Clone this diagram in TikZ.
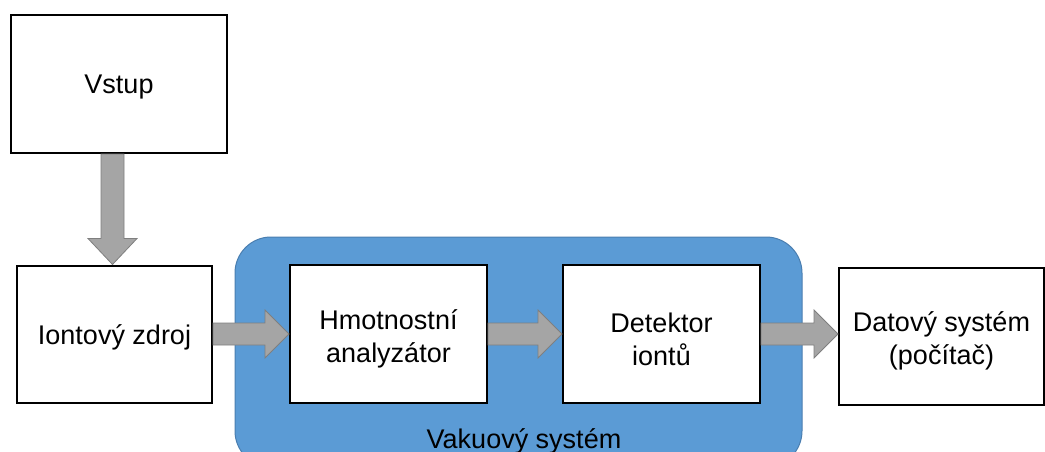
\documentclass[tikz,border=0pt]{standalone}
\usepackage{fontspec}
\setmainfont{Liberation Sans}
\usetikzlibrary{calc}
\definecolor{vacblue}{HTML}{5B9BD5}
\definecolor{vacedge}{HTML}{4A7EB0}
\definecolor{arrfill}{HTML}{A5A5A5}
\definecolor{arredge}{HTML}{7F7F7F}
\begin{document}
\begin{tikzpicture}[x=1pt,y=-1pt,
  block/.style={draw=black,line width=2pt,fill=white,inner sep=0pt},
  txt/.style={align=center,font=\fontsize{27}{33}\selectfont,inner sep=0pt},
  flow/.style={fill=arrfill,draw=arredge,line width=0.8pt}]
\useasboundingbox (0,0) rectangle (1045,452);
% vacuum enclosure
\node[draw=vacedge,fill=vacblue,line width=1pt,rounded corners=36pt,
  minimum width=567pt,minimum height=230pt,inner sep=0pt] (vac) at (518.5,352) {};
\clip (0,0) rectangle (1045,452);
\node[txt,anchor=base] (vaclbl) at (524,448) {Vakuový systém};
% blocks
\node[block,minimum width=216pt,minimum height=138pt] (in) at (119,84) {};
\node[block,minimum width=195pt,minimum height=137pt] (src) at (114.5,334) {};
\node[block,minimum width=197pt,minimum height=138pt] (ana) at (388.5,334) {};
\node[block,minimum width=197pt,minimum height=138pt] (det) at (661.5,334) {};
\node[block,minimum width=205pt,minimum height=137pt] (dat) at (941.5,336) {};
% block texts
\node[txt] (intx) at ([yshift=-3pt]in.center) {Vstup};
\node[txt] (srctx) at ([yshift=-3pt]src.center) {Iontový zdroj};
\node[txt] (anatx) at ([yshift=-5pt]ana.center) {Hmotnostní\\analyzátor};
\node[txt] (dettx) at ([yshift=-5pt]det.center) {Detektor\\iontů};
\node[txt] (dattx) at ([yshift=-5pt]dat.center) {Datový systém\\(počítač)};
% block arrows: shaft 22 wide, head about 48 wide and 24 long
\newcommand{\blockarrowh}[2]{%
  \path let \p1=(#1.east), \p2=(#2.west) in
    [flow] (\x1,\y1-11) -- (\x2-24,\y1-11) -- (\x2-24,\y1-24) -- (\x2,\y1)
      -- (\x2-24,\y1+24) -- (\x2-24,\y1+11) -- (\x1,\y1+11) -- cycle;}
\path let \p1=([xshift=-6.5pt]in.south), \p2=(src.north) in
  [flow] (\x1-11.5,\y1) -- (\x1-11.5,\y2+26) -- (\x1-24.5,\y2+26) -- (\x1,\y2)
    -- (\x1+24.5,\y2+26) -- (\x1+11.5,\y2+26) -- (\x1+11.5,\y1) -- cycle;
\blockarrowh{src}{ana}
\blockarrowh{ana}{det}
\blockarrowh{det}{dat}
\end{tikzpicture}
\end{document}
